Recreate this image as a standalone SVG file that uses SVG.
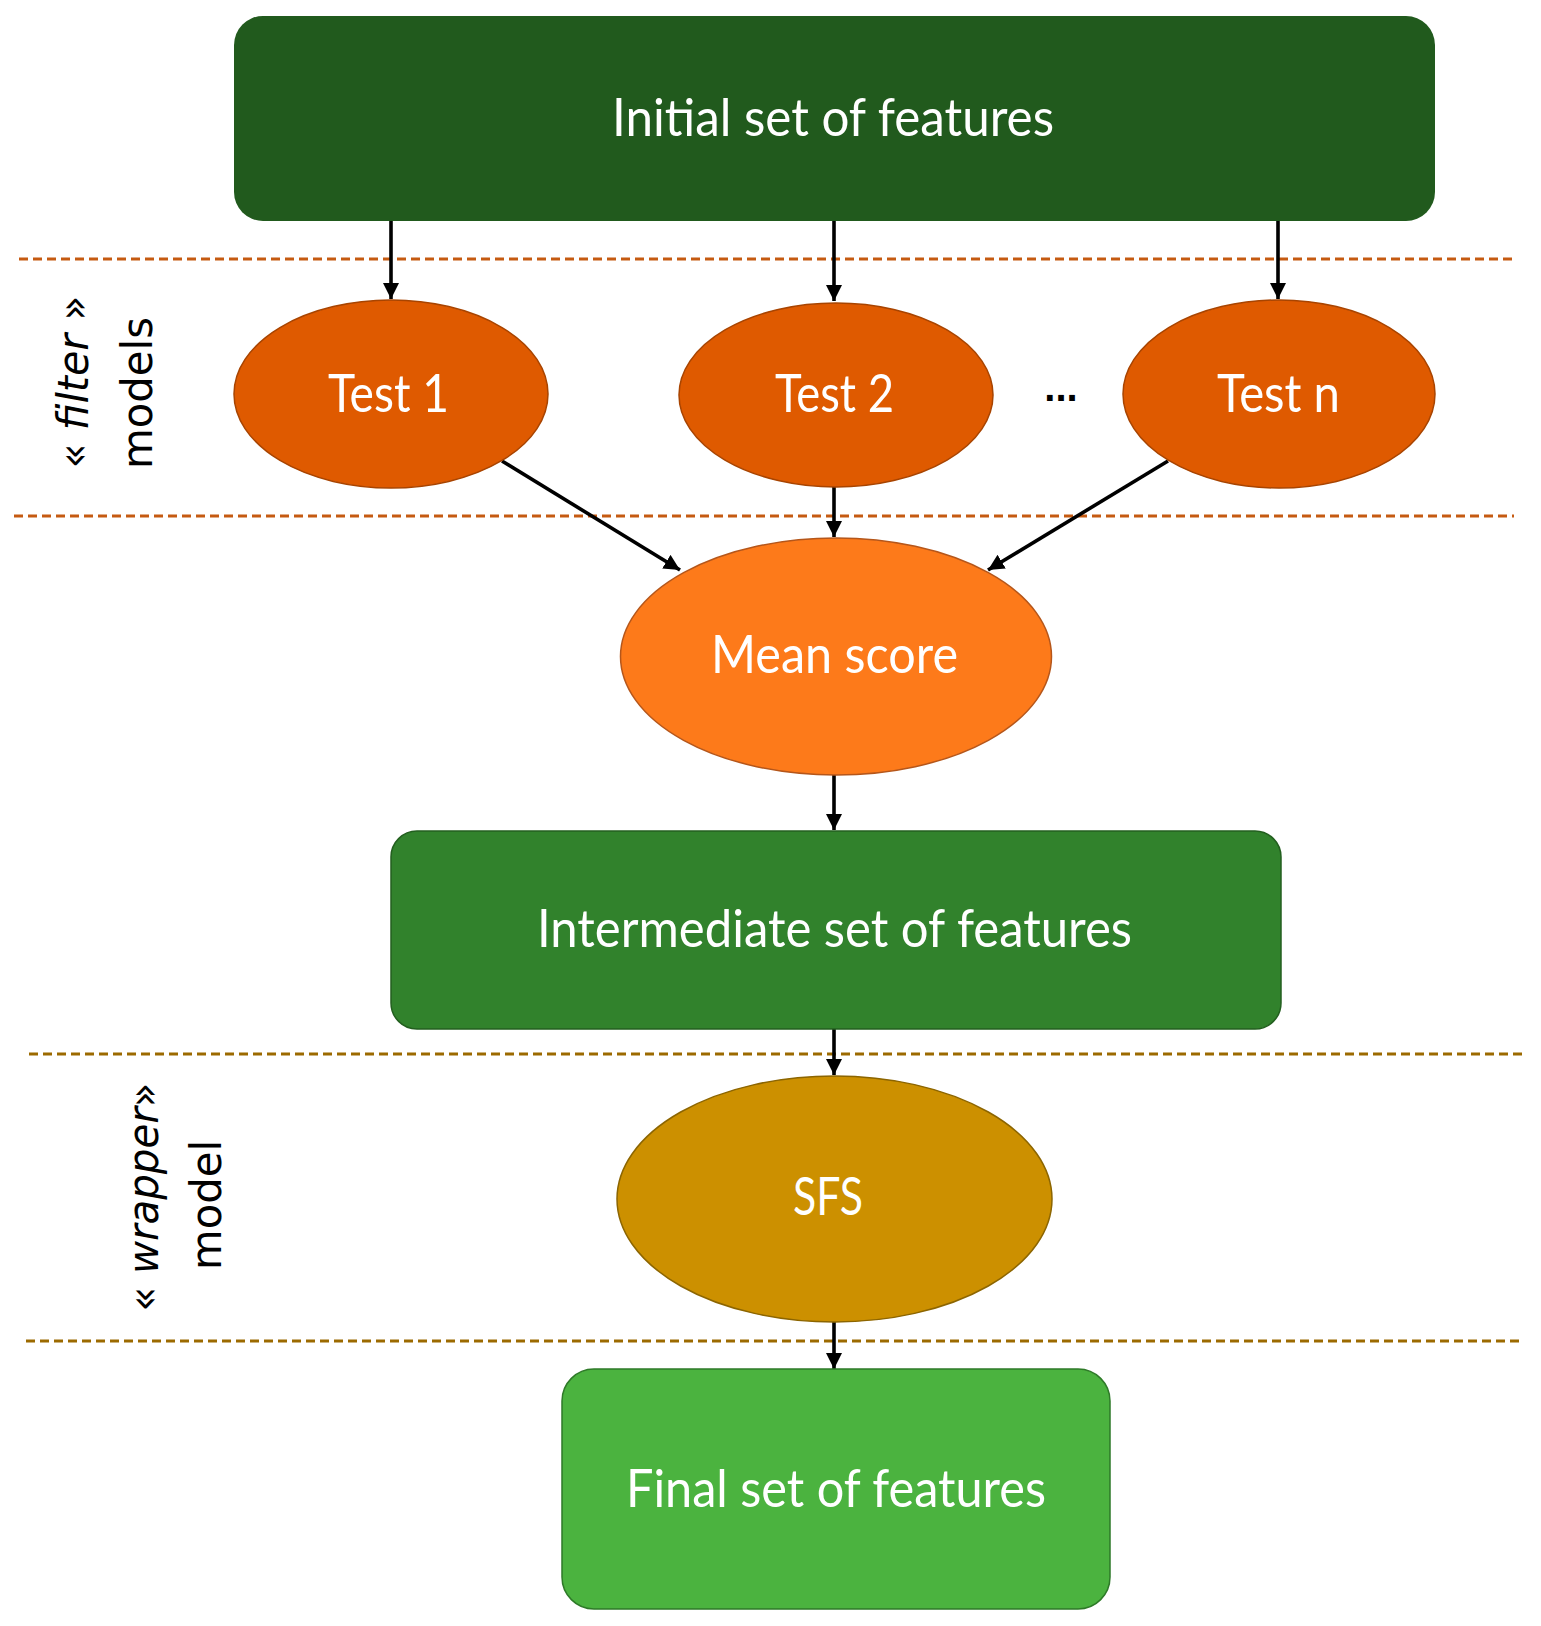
<svg xmlns="http://www.w3.org/2000/svg" width="1541" height="1626" viewBox="0 0 1541 1626">
<defs>
<marker id="ah" markerWidth="18" markerHeight="18" refX="16" refY="8" orient="auto" markerUnits="userSpaceOnUse">
<path d="M0,0 L16,8 L0,16 Z" fill="#000"/>
</marker>
<style>
.lbl{font-family:Lato,"Open Sans","Liberation Sans",sans-serif;font-size:52px;fill:#fff}
.side{font-family:"DejaVu Sans",Verdana,sans-serif;font-size:42px;fill:#000;text-anchor:middle}
.conn{stroke:#000;stroke-width:3.6;fill:none;marker-end:url(#ah)}
.dashO{stroke:#c55a11;stroke-width:3;stroke-dasharray:9 5;fill:none}
.dashG{stroke:#9c6a00;stroke-width:3;stroke-dasharray:9 5;fill:none}
.test{fill:#df5a00;stroke:#a84400;stroke-width:1.5}
</style>
</defs>
<rect width="1541" height="1626" fill="#fff"/>

<g id="separators">
<line class="dashO" x1="19" y1="259" x2="1516" y2="259"/>
<line class="dashO" x1="14" y1="516" x2="1514" y2="516"/>
<line class="dashG" x1="29" y1="1054" x2="1522" y2="1054"/>
<line class="dashG" x1="26" y1="1341" x2="1519" y2="1341"/>
</g>

<g id="side-labels">
<text class="side" transform="translate(88,382) rotate(-90)" textLength="173" lengthAdjust="spacingAndGlyphs">« <tspan font-style="italic">filter</tspan> »</text>
<text class="side" transform="translate(152,393) rotate(-90)" textLength="152" lengthAdjust="spacingAndGlyphs">models</text>
<text class="side" transform="translate(158,1197) rotate(-90)" textLength="229" lengthAdjust="spacingAndGlyphs">« <tspan font-style="italic">wrapper</tspan>»</text>
<text class="side" transform="translate(221,1205) rotate(-90)" textLength="130" lengthAdjust="spacingAndGlyphs">model</text>
</g>

<g id="connectors">
<line class="conn" x1="391" y1="221" x2="391" y2="299"/>
<line class="conn" x1="834" y1="221" x2="834" y2="301"/>
<line class="conn" x1="1278" y1="221" x2="1278" y2="299"/>
<line class="conn" x1="502" y1="461" x2="680" y2="570"/>
<line class="conn" x1="834" y1="487" x2="834" y2="537"/>
<line class="conn" x1="1168" y1="461" x2="988" y2="570"/>
<line class="conn" x1="834" y1="775" x2="834" y2="830"/>
<line class="conn" x1="834" y1="1029" x2="834" y2="1075"/>
<line class="conn" x1="834" y1="1322" x2="834" y2="1369"/>
</g>

<g id="initial">
<rect x="234" y="16" width="1201" height="205" rx="29" ry="29" fill="#215a1d"/>
<text class="lbl" x="612" y="136" textLength="442" lengthAdjust="spacingAndGlyphs">Initial set of features</text>
</g>

<g id="test1">
<ellipse class="test" cx="391" cy="394" rx="157" ry="94"/>
<text class="lbl" x="328" y="412" textLength="121" lengthAdjust="spacingAndGlyphs">Test 1</text>
</g>

<g id="test2">
<ellipse class="test" cx="836" cy="395" rx="157" ry="92"/>
<text class="lbl" x="775" y="412" textLength="119" lengthAdjust="spacingAndGlyphs">Test 2</text>
</g>

<g id="ellipsis">
<text x="1061" y="401" font-family="'Liberation Sans',Arial,sans-serif" font-size="40" font-weight="bold" text-anchor="middle" fill="#000">...</text>
</g>

<g id="testn">
<ellipse class="test" cx="1279" cy="394" rx="156" ry="94"/>
<text class="lbl" x="1217" y="412" textLength="123" lengthAdjust="spacingAndGlyphs">Test n</text>
</g>

<g id="mean">
<ellipse cx="836" cy="656.5" rx="215.5" ry="118.5" fill="#fd7a1a" stroke="#b5561a" stroke-width="1.5"/>
<text class="lbl" x="711" y="673" textLength="247" lengthAdjust="spacingAndGlyphs">Mean score</text>
</g>

<g id="intermediate">
<rect x="391" y="831" width="890" height="198" rx="26" ry="26" fill="#31822c" stroke="#235f1f" stroke-width="1.5"/>
<text class="lbl" x="537" y="947" textLength="595" lengthAdjust="spacingAndGlyphs">Intermediate set of features</text>
</g>

<g id="sfs">
<ellipse cx="834.5" cy="1199" rx="217.5" ry="123" fill="#cc9000" stroke="#8c6500" stroke-width="1.5"/>
<text class="lbl" x="793" y="1215" textLength="70" lengthAdjust="spacingAndGlyphs">SFS</text>
</g>

<g id="final">
<rect x="562" y="1369" width="548" height="240" rx="32" ry="32" fill="#4bb33f" stroke="#2e7a28" stroke-width="1.5"/>
<text class="lbl" x="626" y="1507" textLength="420" lengthAdjust="spacingAndGlyphs">Final set of features</text>
</g>
</svg>
